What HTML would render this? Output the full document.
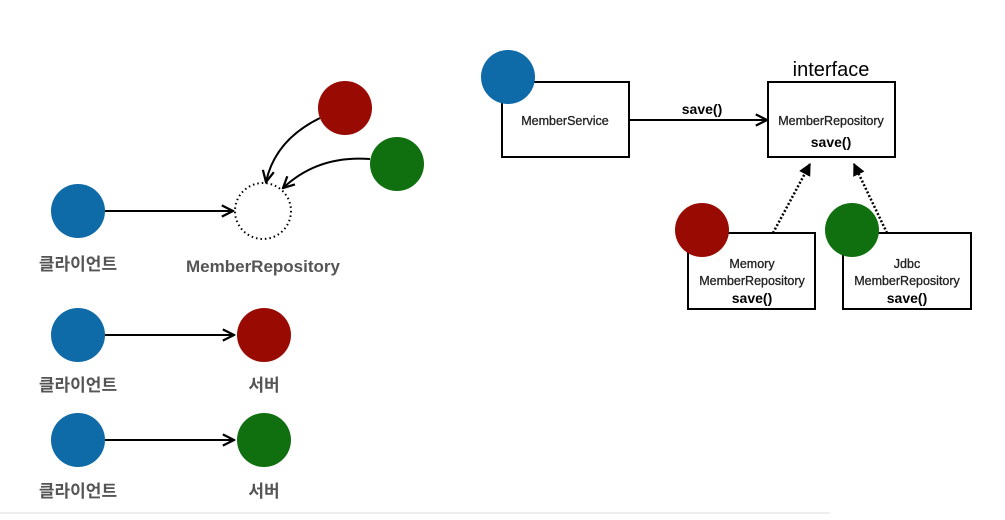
<!DOCTYPE html>
<html><head><meta charset="utf-8"><style>
html,body{margin:0;padding:0;background:#fff;}
svg text{font-family:"Liberation Sans","Noto Sans CJK KR",sans-serif;}
</style></head><body>
<svg width="1005" height="515" viewBox="0 0 1005 515" xmlns="http://www.w3.org/2000/svg">
<defs>
<marker id="a" viewBox="0 0 10 10" refX="9" refY="5" markerWidth="7" markerHeight="7" orient="auto"><path d="M1,1 L9,5 L1,9" fill="none" stroke="#000" stroke-width="1.6"/></marker>
<marker id="t" viewBox="0 0 10 10" refX="9" refY="5" markerWidth="5" markerHeight="5" orient="auto"><path d="M0,0 L10,5 L0,10 z" fill="#000"/></marker>
</defs>
<rect width="1005" height="515" fill="#fff"/>
<line x1="0" y1="513" x2="830" y2="513" stroke="#ddd" stroke-width="1"/>
<circle cx="263" cy="211" r="28" fill="none" stroke="#000" stroke-width="2" stroke-dasharray="1.5,3"/>
<line x1="105" y1="211" x2="233" y2="211" stroke="#000" stroke-width="2" marker-end="url(#a)"/>
<path d="M320,118 Q275,140 266,182" fill="none" stroke="#000" stroke-width="2" marker-end="url(#a)"/>
<path d="M370,159 Q318,155 283,188" fill="none" stroke="#000" stroke-width="2" marker-end="url(#a)"/>
<circle cx="78" cy="211" r="27" fill="#0f6aa8"/>
<circle cx="345" cy="108" r="27" fill="#990b02"/>
<circle cx="397" cy="164" r="27" fill="#107010"/>
<text x="78" y="270" font-size="17" font-weight="bold" fill="#555" text-anchor="middle">클라이언트</text>
<text x="263" y="272" font-size="17" font-weight="bold" fill="#555" text-anchor="middle">MemberRepository</text>
<line x1="105" y1="335" x2="234" y2="335" stroke="#000" stroke-width="2" marker-end="url(#a)"/>
<circle cx="78" cy="335" r="27" fill="#0f6aa8"/>
<circle cx="264" cy="335" r="27" fill="#990b02"/>
<text x="78" y="391" font-size="17" font-weight="bold" fill="#555" text-anchor="middle">클라이언트</text>
<text x="264" y="391" font-size="17" font-weight="bold" fill="#555" text-anchor="middle">서버</text>
<line x1="105" y1="440" x2="234" y2="440" stroke="#000" stroke-width="2" marker-end="url(#a)"/>
<circle cx="78" cy="440" r="27" fill="#0f6aa8"/>
<circle cx="264" cy="440" r="27" fill="#107010"/>
<text x="78" y="497" font-size="17" font-weight="bold" fill="#555" text-anchor="middle">클라이언트</text>
<text x="264" y="497" font-size="17" font-weight="bold" fill="#555" text-anchor="middle">서버</text>
<rect x="502" y="82" width="127" height="75" fill="#fff" stroke="#000" stroke-width="2"/>
<circle cx="508" cy="77" r="27" fill="#0f6aa8"/>
<text x="565" y="125" font-size="12.5" fill="#222" stroke="#222" stroke-width="0.3" text-anchor="middle">MemberService</text>
<line x1="629" y1="120" x2="767" y2="120" stroke="#000" stroke-width="2" marker-end="url(#a)"/>
<text x="702" y="114" font-size="14" font-weight="bold" text-anchor="middle">save()</text>
<text x="831" y="76" font-size="20" text-anchor="middle">interface</text>
<rect x="768" y="82" width="127" height="75" fill="#fff" stroke="#000" stroke-width="2"/>
<text x="831" y="125" font-size="12.5" fill="#222" stroke="#222" stroke-width="0.3" text-anchor="middle">MemberRepository</text>
<text x="831" y="147" font-size="14" font-weight="bold" text-anchor="middle">save()</text>
<line x1="773" y1="233" x2="810" y2="164" stroke="#000" stroke-width="2.5" stroke-dasharray="2,2" marker-end="url(#t)"/>
<line x1="887" y1="233" x2="854" y2="164" stroke="#000" stroke-width="2.5" stroke-dasharray="2,2" marker-end="url(#t)"/>
<rect x="688" y="233" width="127" height="76" fill="#fff" stroke="#000" stroke-width="2"/>
<circle cx="702" cy="230" r="27" fill="#990b02"/>
<text x="752" y="268" font-size="12.5" fill="#222" stroke="#222" stroke-width="0.3" text-anchor="middle">Memory</text>
<text x="752" y="285" font-size="12.5" fill="#222" stroke="#222" stroke-width="0.3" text-anchor="middle">MemberRepository</text>
<text x="752" y="303" font-size="14" font-weight="bold" text-anchor="middle">save()</text>
<rect x="843" y="233" width="128" height="76" fill="#fff" stroke="#000" stroke-width="2"/>
<circle cx="852" cy="230" r="27" fill="#107010"/>
<text x="907" y="268" font-size="12.5" fill="#222" stroke="#222" stroke-width="0.3" text-anchor="middle">Jdbc</text>
<text x="907" y="285" font-size="12.5" fill="#222" stroke="#222" stroke-width="0.3" text-anchor="middle">MemberRepository</text>
<text x="907" y="303" font-size="14" font-weight="bold" text-anchor="middle">save()</text>
</svg>
</body></html>
